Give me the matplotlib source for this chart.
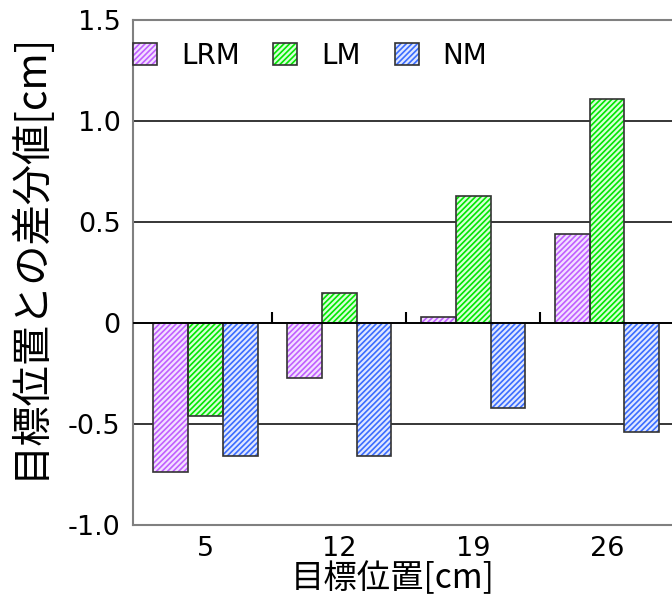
import matplotlib
matplotlib.use("Agg")
import matplotlib.pyplot as plt
from matplotlib.patches import Patch
import numpy as np

categories = ["5", "12", "19", "26"]
series_names = ["LRM", "LM", "NM"]
lrm = [-0.74, -0.27, 0.03, 0.44]
lm = [-0.46, 0.15, 0.63, 1.11]
nm = [-0.66, -0.66, -0.42, -0.54]
values = [lrm, lm, nm]
hatch_colors = ["#c060ff", "#00e600", "#3a6cff"]
face_colors = ["#f3e0ff", "#d8ffd8", "#dfe7ff"]
y_ticks = [-1.0, -0.5, 0, 0.5, 1.0, 1.5]
y_tick_labels = ["-1.0", "-0.5", "0", "0.5", "1.0", "1.5"]

plt.rcParams['font.family'] = ['DejaVu Sans']
plt.rcParams['hatch.linewidth'] = 1.2

fig = plt.figure(figsize=(6.72, 6.03), dpi=100)
ax = fig.add_axes([0.198, 0.1294, 0.805, 0.8374])

x = np.arange(len(categories))
w = 0.26
for i, (vals, hc, fc) in enumerate(zip(values, hatch_colors, face_colors)):
    pos = x + (i - 1) * w
    ax.bar(pos, vals, width=w, facecolor=fc, edgecolor=hc, hatch="//////",
           linewidth=0, zorder=3)
    ax.bar(pos, vals, width=w, facecolor="none", edgecolor="#333333",
           linewidth=1.2, zorder=4)

# gridlines
for yv in y_ticks[1:-1]:
    ax.axhline(yv, color="black", linewidth=1.1, zorder=1)
ax.axhline(0, color="black", linewidth=1.3, zorder=5)
# category separators on zero line
ax.vlines(x[:-1] + 0.5, 0, 0.055, color="black", linewidth=1.5, zorder=5)

ax.set_xlim(-0.54, 3.5)
ax.set_ylim(-1.0, 1.5)
ax.set_yticks(y_ticks)
ax.set_yticklabels(y_tick_labels)
ax.set_xticks(x)
ax.set_xticklabels(categories)
ax.tick_params(axis="both", length=0, labelsize=19.5)
ax.tick_params(axis="y", pad=9)
ax.tick_params(axis="x", pad=8)
for s in ax.spines.values():
    s.set_color("#808080")
    s.set_linewidth(1.5)

jp = ['Noto Sans CJK JP', 'DejaVu Sans']
ax.set_xlabel("目標位置[cm]", fontsize=24, family=jp)
ax.set_ylabel("目標位置との差分値[cm]", fontsize=29, family=jp)
ax.xaxis.set_label_coords(0.48, -0.072)
ax.yaxis.set_label_coords(-0.155, 0.533)

handles = []
for hc, fc in zip(hatch_colors, face_colors):
    p1 = Patch(facecolor=fc, edgecolor=hc, hatch="//////", linewidth=0)
    p2 = Patch(facecolor="none", edgecolor="#333333", linewidth=1.2)
    handles.append((p1, p2))
leg = ax.legend(handles, series_names, loc="upper left", ncol=3, frameon=False,
                fontsize=20, handlelength=0.86, handleheight=0.86,
                handletextpad=0.86, columnspacing=1.22,
                bbox_to_anchor=(0.0, 0.957), borderaxespad=0.0, borderpad=0.0)

fig.savefig("out.png", dpi=100)
